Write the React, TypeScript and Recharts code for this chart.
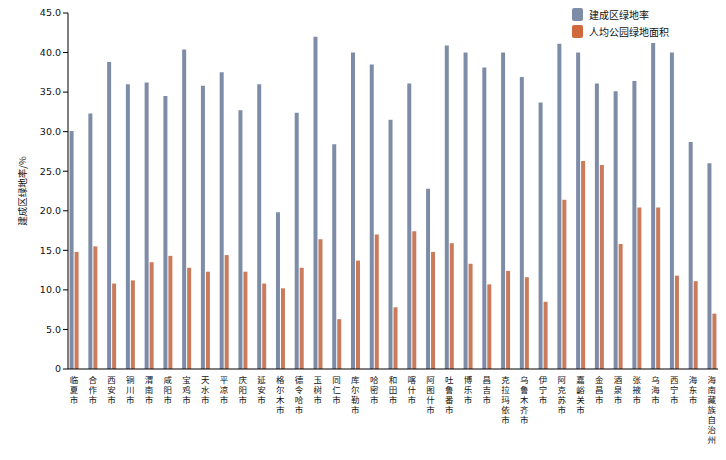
import React from "react";
import { BarChart, Bar, XAxis, YAxis } from "recharts";

const cities = [
  "临夏市", "合作市", "西安市", "铜川市", "渭南市", "咸阳市", "宝鸡市", "天水市", "平凉市", "庆阳市",
  "延安市", "格尔木市", "德令哈市", "玉树市", "同仁市", "库尔勒市", "哈密市", "和田市", "喀什市", "阿图什市",
  "吐鲁番市", "博乐市", "昌吉市", "克拉玛依市", "乌鲁木齐市", "伊宁市", "阿克苏市", "嘉峪关市", "金昌市", "酒泉市",
  "张掖市", "乌海市", "西宁市", "海东市", "海南藏族自治州",
];

const greenRate = [
  30.1, 32.3, 38.8, 36.0, 36.2, 34.5, 40.4, 35.8, 37.5, 32.7,
  36.0, 19.8, 32.4, 42.0, 28.4, 40.0, 38.5, 31.5, 36.1, 22.8,
  40.9, 40.0, 38.1, 40.0, 36.9, 33.7, 41.1, 40.0, 36.1, 35.1,
  36.4, 41.2, 40.0, 28.7, 26.0,
];

const parkArea = [
  14.8, 15.5, 10.8, 11.2, 13.5, 14.3, 12.8, 12.3, 14.4, 12.3,
  10.8, 10.2, 12.8, 16.4, 6.3, 13.7, 17.0, 7.8, 17.4, 14.8,
  15.9, 13.3, 10.7, 12.4, 11.6, 8.5, 21.4, 26.3, 25.8, 15.8,
  20.4, 20.4, 11.8, 11.1, 7.0,
];

const yTicks = [0, 5, 10, 15, 20, 25, 30, 35, 40, 45];

const SERIES_A = "建成区绿地率";
const SERIES_B = "人均公园绿地面积";

const data = cities.map((c, i) => ({
  city: c,
  [SERIES_A]: greenRate[i],
  [SERIES_B]: parkArea[i],
}));

const BLUE = "#7e8da7";
const ORANGE = "#c97b5b";
const FONT = "'DejaVu Sans', 'Noto Sans CJK SC', sans-serif";
const CJK = "'Noto Sans CJK SC', sans-serif";

const VerticalTick = (props: any) => {
  const { x, y, payload } = props;
  const chars = String(payload.value).split("");
  return (
    <g>
      {chars.map((ch, i) => (
        <text
          key={i}
          x={x}
          y={y + 6 + i * 10}
          textAnchor="middle"
          fontSize={8.5}
          fontFamily={CJK}
          fill="#111"
        >
          {ch}
        </text>
      ))}
    </g>
  );
};

const legendItems = [
  { name: SERIES_A, color: BLUE },
  { name: SERIES_B, color: "#d06a3c" },
];

export default function App() {
  return (
    <div style={{ position: "relative", width: 726, height: 460, background: "#fff" }}>
      <style>{`body{margin:0;}`}</style>
      <BarChart
        width={726}
        height={460}
        data={data}
        margin={{ top: 13, right: 8, bottom: 0, left: 0 }}
        barSize={4}
        barGap={1}
      >
        <XAxis
          dataKey="city"
          interval={0}
          height={91}
          tick={<VerticalTick />}
          tickLine={false}
          axisLine={{ stroke: "#000", strokeWidth: 1 }}
          padding={{ left: -3.4, right: -3.2 }}
        />
        <YAxis
          width={68}
          domain={[0, 45]}
          ticks={yTicks}
          interval={0}
          tickSize={5}
          tickLine={{ stroke: "#000" }}
          axisLine={{ stroke: "#000", strokeWidth: 1 }}
          tick={{ fontSize: 9.5, fontFamily: FONT, fill: "#111" }}
          tickFormatter={(v: number) => (v === 0 ? "0" : v.toFixed(1))}
          label={{
            content: () => (
              <text
                x={23}
                y={191}
                transform="rotate(-90, 23, 191)"
                textAnchor="middle"
                dominantBaseline="middle"
                fontSize={9.5}
                fontFamily={CJK}
                fill="#111"
              >
                建成区绿地率/%
              </text>
            ),
          }}
        />
        <Bar dataKey={SERIES_A} fill={BLUE} isAnimationActive={false} />
        <Bar dataKey={SERIES_B} fill={ORANGE} isAnimationActive={false} />
      </BarChart>
      <div
        style={{
          position: "absolute",
          left: 572,
          top: 6,
          fontFamily: CJK,
          fontSize: 10,
          color: "#111",
        }}
      >
        {legendItems.map((it) => (
          <div key={it.name} style={{ display: "flex", alignItems: "center", height: 17 }}>
            <span
              style={{
                display: "inline-block",
                width: 11,
                height: 13,
                background: it.color,
                borderRadius: 2,
                marginRight: 6,
              }}
            />
            <span>{it.name}</span>
          </div>
        ))}
      </div>
    </div>
  );
}
